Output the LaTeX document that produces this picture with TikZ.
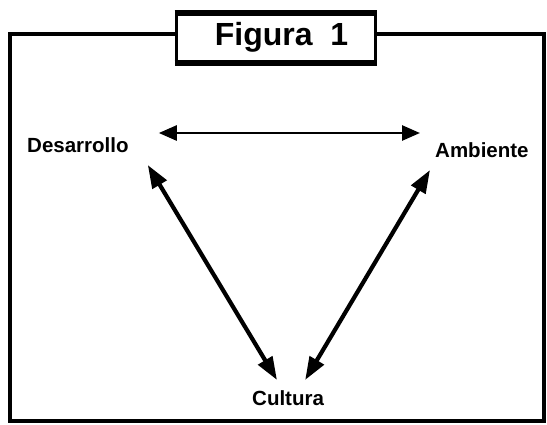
\documentclass[tikz,border=0pt]{standalone}
\usepackage{fontspec}
\setmainfont{Liberation Sans}
\usetikzlibrary{arrows.meta}

\begin{document}
\begin{tikzpicture}[x=1pt,y=-1pt,
    lbl/.style={inner sep=0,font=\labelfontsize\bfseries},
    thinarrow/.style={line width=2.6pt,{Triangle[length=18pt,width=15pt]}-{Triangle[length=18pt,width=15pt]}},
    thickarrow/.style={line width=4.2pt,{Triangle[length=23pt,width=16pt]}-{Triangle[length=23pt,width=16pt]}}]
    \pgfmathsetmacro{\framewidth}{3.6}
    \pgfmathsetmacro{\frameleft}{10}
    \pgfmathsetmacro{\frameright}{544}
    \pgfmathsetmacro{\frametop}{34}
    \pgfmathsetmacro{\framebottom}{421}
    \providecommand{\titlefontsize}{\fontsize{32pt}{35pt}\selectfont}
    \providecommand{\labelfontsize}{\fontsize{20.5pt}{24pt}\selectfont}
    \useasboundingbox (0,0) rectangle (547,424);
    % title box
    \node[draw,line width=3pt,minimum width=199pt,minimum height=48pt,inner sep=0,font=\titlefontsize\bfseries] (titulo) at (275.5,37) {\hspace*{12pt}Figura\ \ 1};
    \draw[line width=6pt] ([yshift=-1pt]titulo.north west) -- ([yshift=-1pt]titulo.north east);
    \draw[line width=6pt] (titulo.south west) -- (titulo.south east);
    % frame
    \draw[line width=\framewidth pt] (titulo.west |- 0,\frametop) -- (\frameleft,\frametop) -- (\frameleft,\framebottom) -- (\frameright,\framebottom) -- (\frameright,\frametop) -- (titulo.east |- 0,\frametop);
    \node[lbl,anchor=base west] (desarrollo) at (27,152) {Desarrollo};
    \node[lbl,anchor=base west] (ambiente) at (435,157) {Ambiente};
    \node[lbl,anchor=base west] (cultura) at (252,405) {Cultura};
    \draw[thinarrow] ([shift={(30,-19)}]desarrollo.base east) -- ([shift={(-15,-24)}]ambiente.base west);
    \draw[thickarrow] ([shift={(19,13)}]desarrollo.base east) -- ([shift={(25,-25)}]cultura.base west);
    \draw[thickarrow] ([shift={(-5,13)}]ambiente.base west) -- ([shift={(-19,-25)}]cultura.base east);
\end{tikzpicture}
\end{document}
